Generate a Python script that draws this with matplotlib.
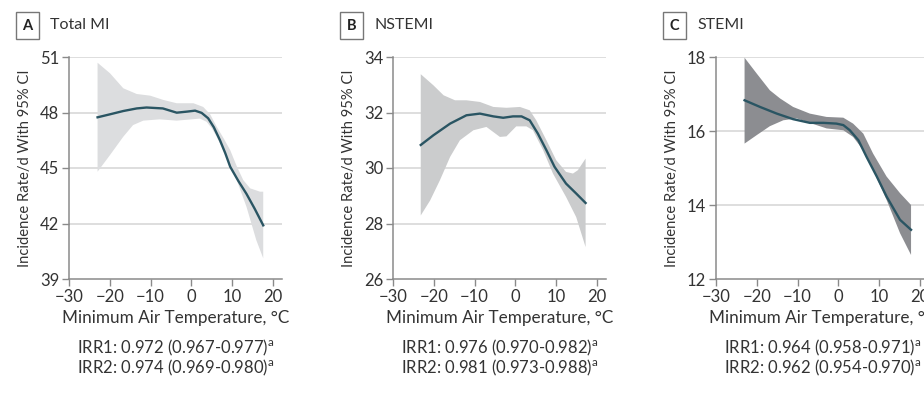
import matplotlib
matplotlib.use("Agg")
import matplotlib.pyplot as plt

plt.rcParams['font.family'] = ['Lato', 'DejaVu Sans']
plt.rcParams['mathtext.fontset'] = 'custom'
plt.rcParams['mathtext.rm'] = 'Lato'

# Panel A: Total MI
a_x = [-23, -20, -16.7, -13.4, -11, -7, -3.6, -1, 0.9, 2.5, 4.1, 5.5, 7.0, 8.3, 9.5, 11.5, 13.5, 15.5, 17.6]
a_y = [47.74, 47.9, 48.08, 48.22, 48.27, 48.22, 47.99, 48.05, 48.1, 47.98, 47.69, 47.2, 46.5, 45.8, 45.07, 44.3, 43.6, 42.8, 41.9]
a_up_x = [-23, -19.95, -16.7, -13.4, -10.1, -6.9, -3.6, 0.5, 2.9, 4.6, 6.2, 7.9, 9.5, 11.1, 12.7, 14.4, 16.8, 17.6]
a_up = [50.69, 50.12, 49.31, 49.0, 48.91, 48.68, 48.5, 48.5, 48.3, 47.9, 47.23, 46.6, 45.97, 45.1, 44.35, 43.9, 43.72, 43.72]
a_lo_x = [-23, -19.95, -16.7, -14.3, -11.8, -7.8, -3.6, 2.1, 3.7, 5.0, 6.2, 8.6, 11.1, 13.5, 15.9, 17.6]
a_lo = [44.8, 45.7, 46.69, 47.32, 47.56, 47.63, 47.56, 47.67, 47.5, 47.15, 46.69, 45.6, 44.35, 42.9, 41.1, 40.12]

# Panel B: NSTEMI
b_x = [-23.2, -20.1, -16.0, -12.0, -8.7, -5.4, -3.0, -0.6, 1.5, 3.5, 5.5, 7.6, 9.6, 12.4, 14.9, 17.2]
b_y = [30.83, 31.18, 31.6, 31.9, 31.96, 31.86, 31.81, 31.86, 31.86, 31.72, 31.24, 30.64, 30.04, 29.44, 29.08, 28.74]
b_up_x = [-23.2, -20.1, -17.6, -14.8, -12.0, -8.7, -5.4, -2.2, 1.1, 3.5, 5.1, 7.6, 10.0, 12.4, 14.1, 15.3, 17.2]
b_up = [33.38, 32.98, 32.62, 32.44, 32.44, 32.38, 32.2, 32.17, 32.2, 32.08, 31.72, 31.0, 30.28, 29.86, 29.8, 29.92, 30.34]
b_lo_x = [-23.2, -20.9, -18.5, -16.0, -13.6, -10.3, -7.1, -3.8, -2.2, 0.2, 2.7, 4.3, 6.8, 9.2, 12.4, 14.9, 17.2]
b_lo = [28.29, 28.83, 29.56, 30.4, 31.0, 31.36, 31.48, 31.12, 31.14, 31.5, 31.5, 31.36, 30.64, 29.8, 28.96, 28.23, 27.15]

# Panel C: STEMI
c_x = [-23.0, -19.2, -15.1, -11.1, -7.0, -3.7, -0.5, 1.2, 2.8, 4.9, 6.9, 9.4, 11.8, 15.1, 17.8]
c_y = [16.83, 16.65, 16.47, 16.32, 16.22, 16.22, 16.2, 16.16, 16.02, 15.75, 15.3, 14.77, 14.23, 13.6, 13.33]
c_up_x = [-23.0, -20.0, -16.8, -14.3, -11.1, -7.0, -2.9, 1.2, 3.6, 6.1, 8.5, 11.8, 15.1, 17.8]
c_up = [17.98, 17.55, 17.1, 16.88, 16.65, 16.47, 16.38, 16.36, 16.2, 15.93, 15.39, 14.77, 14.32, 14.0]
c_lo_x = [-23.0, -20.0, -16.8, -13.5, -10.2, -6.5, -2.9, 1.2, 3.6, 6.1, 8.5, 11.8, 15.1, 17.8]
c_lo = [15.66, 15.89, 16.13, 16.29, 16.34, 16.2, 16.07, 16.02, 15.84, 15.48, 14.95, 14.14, 13.24, 12.65]

panels = [
    ("A", "Total MI", a_x, a_y, a_up_x, a_up, a_lo_x, a_lo, [39, 42, 45, 48, 51], "#dcdddf",
     "IRR1: 0.972 (0.967-0.977)", "IRR2: 0.974 (0.969-0.980)"),
    ("B", "NSTEMI", b_x, b_y, b_up_x, b_up, b_lo_x, b_lo, [26, 28, 30, 32, 34], "#cbcccd",
     "IRR1: 0.976 (0.970-0.982)", "IRR2: 0.981 (0.973-0.988)"),
    ("C", "STEMI", c_x, c_y, c_up_x, c_up, c_lo_x, c_lo, [12, 14, 16, 18], "#8c8d91",
     "IRR1: 0.964 (0.958-0.971)", "IRR2: 0.962 (0.954-0.970)"),
]

W, H = 924, 394
fig = plt.figure(figsize=(W / 100, H / 100), dpi=100)

lefts = [69, 393, 716]
ax_w = 213
ax_top, ax_bot = 57, 279
line_col = "#2a5563"
spine_col = "#8a8a8a"
txt_col = "#333333"

for left, p in zip(lefts, panels):
    letter, title, lx, ly, ux, uy, dx, dy, yt, fill_col, irr1, irr2 = p
    ax = fig.add_axes([left / W, 1 - ax_bot / H, ax_w / W, (ax_bot - ax_top) / H])

    # band: upper edge forward, lower edge back
    ax.fill(ux + dx[::-1], uy + dy[::-1], color=fill_col, lw=0, zorder=2)
    ax.plot(lx, ly, color=line_col, lw=1.7, zorder=3)

    ax.set_xlim(-30, 22.2)
    ax.set_ylim(yt[0], yt[-1])
    ax.set_xticks([-30, -20, -10, 0, 10, 20])
    ax.set_xticklabels(["\u221230", "\u221220", "\u221210", "0", "10", "20"])
    ax.set_yticks(yt)
    for t in yt[1:]:
        ax.axhline(t, color="#dedede", lw=1.4, zorder=1)
    for s in ["top", "right"]:
        ax.spines[s].set_visible(False)
    for s in ["left", "bottom"]:
        ax.spines[s].set_color(spine_col)
        ax.spines[s].set_linewidth(1.1)
    ax.tick_params(labelcolor=txt_col, labelsize=12, length=5, width=1.0, pad=2, color=spine_col)

    ax.set_ylabel("Incidence Rate/d With 95% CI", fontsize=10.6, color=txt_col)
    ax.yaxis.set_label_coords(-37 / ax_w, 0.5)
    ax.set_xlabel("Minimum Air Temperature, \u00b0C", fontsize=12.3, color=txt_col, labelpad=4)

    cx = (left + ax_w / 2) / W
    fig.text(cx, 1 - 358 / H, irr1 + "$^{\\mathrm{a}}$\n" + irr2 + "$^{\\mathrm{a}}$",
             ha="center", va="center", ma="center", fontsize=12, color=txt_col,
             linespacing=0.95)

    # panel letter box and title
    fig.text((left - 41.5) / W, 1 - 25.5 / H, letter, ha="center", va="center", fontsize=10.5,
             fontweight="bold", color="#222222",
             bbox=dict(boxstyle="square,pad=0.45", fc="white", ec="#777777", lw=1.0))
    fig.text((left - 19) / W, 1 - 25 / H, title, ha="left", va="center", fontsize=11.5,
             color=txt_col)

fig.savefig("out.png", dpi=100)
